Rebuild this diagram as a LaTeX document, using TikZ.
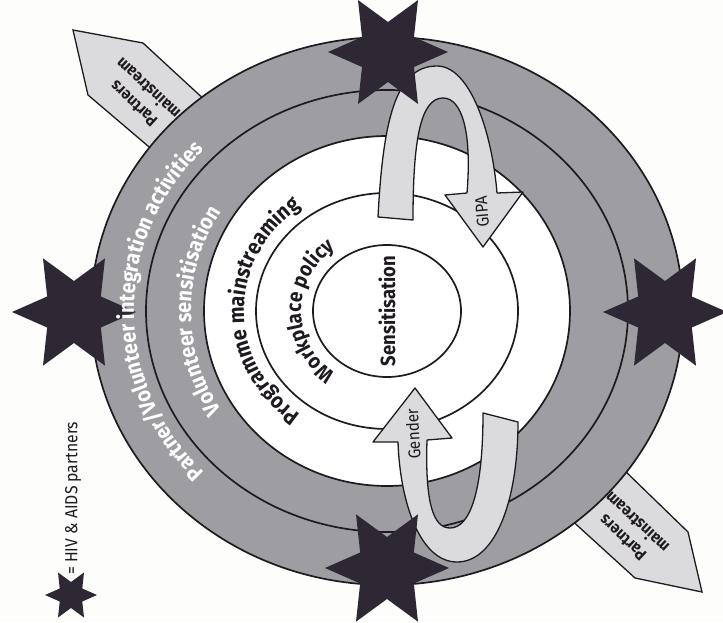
\documentclass[tikz,border=0pt]{standalone}
\usepackage{fontspec}
\setmainfont{Fira Sans}[FakeStretch=0.9]
\usepackage{tikz}
\usetikzlibrary{positioning,decorations.text}
\definecolor{BandGrey}{RGB}{158,158,162}
\definecolor{ArrowGrey}{RGB}{219,219,221}
\definecolor{StarInk}{RGB}{46,39,52}
\definecolor{LineInk}{RGB}{30,26,32}
\definecolor{Paper}{RGB}{253,253,251}
\newcommand{\ringfont}{\bfseries\fontsize{22}{26}\selectfont}
\newcommand{\coreringfont}{\bfseries\fontsize{21}{25}\selectfont}

\begin{document}
\begin{tikzpicture}[x=1pt, y=1pt, font=\bfseries]
      \tikzset{
        ring/.style={draw=LineInk, line width=1.7pt},
        band/.style={ring, fill=BandGrey},
        partnerstar/.style={fill=StarInk, draw=none},
        loop arrow/.style={draw=LineInk, line width=1.3pt, fill=ArrowGrey, line join=round},
        tag/.style={draw=LineInk, line width=1.3pt, fill=ArrowGrey},
        tag text/.style={align=center, text=LineInk, font=\bfseries\fontsize{16.5}{21}\selectfont, rotate=137},
        loop text/.style={text=LineInk, font=\mdseries\fontsize{17}{20}\selectfont},
        ring text/.style={decorate, decoration={text along path, text align=center, text color=#1}}
      }
      \useasboundingbox (0,0) rectangle (723,622);
      \fill[Paper] (0,0) rectangle (723,622);
      \coordinate (c) at (387,311);

      \draw[tag] (73,592) -- (143,579) -- (208,519) -- (155,470) -- (88,527) -- cycle;
      \draw[tag] (568,105) -- (623,153) -- (688,90) -- (702,30) -- (635,44) -- cycle;

      \draw[band] (c) ellipse[x radius=296, y radius=274];
      \draw[ring] (c) ellipse[x radius=241, y radius=221];
      \draw[ring, fill=white] (c) ellipse[x radius=183, y radius=175];
      \draw[ring] (c) ellipse[x radius=131, y radius=118];
      \draw[ring] (c) ellipse[x radius=74, y radius=66];

      \draw[loop arrow] (378,405) .. controls (383,500) and (395,556) .. (437,556) .. controls (470,556) and (492,490) .. (497,429) -- (523,430) -- (483,375) -- (445,427) -- (467,429) .. controls (472,490) and (462,524) .. (443,524) .. controls (420,524) and (413,480) .. (413,402) -- cycle;
      \draw[loop arrow] (415,234) -- (452,184) -- (427,182) .. controls (425,120) and (433,94) .. (450,94) .. controls (470,94) and (483,130) .. (483,209) -- (518,200) .. controls (518,120) and (495,60) .. (457,60) .. controls (420,60) and (400,120) .. (398,180) -- (373,180) -- cycle;

      \foreach \sx/\sy/\sr/\sname in {388/570/60/startop, 74/310/62/starleft, 665/310/62/starright, 387/54/62/starbottom, 71/27/26/keystar}{
        \coordinate (\sname) at (\sx,\sy);
        \fill[partnerstar] (\sname) +(0:\sr) \foreach \k in {1,...,11}{ -- +(\k*30:{\sr*(1-0.5*mod(\k,2))}) } -- cycle;
      }

      \path[ring text=white, decoration={text={|\ringfont|Partner/Volunteer integration activities}}] (c) ++(270:253 and 233) arc[start angle=270, end angle=90, x radius=253, y radius=233];
      \path[ring text=white, decoration={text={|\ringfont|Volunteer sensitisation}}] (c) ++(270:196 and 186) arc[start angle=270, end angle=90, x radius=196, y radius=186];
      \path[ring text=LineInk, decoration={text={|\ringfont|Programme mainstreaming}}] (c) ++(270:143 and 130) arc[start angle=270, end angle=90, x radius=143, y radius=130];
      \path[ring text=LineInk, decoration={text={|\coreringfont|Workplace policy}}] (c) ++(270:86 and 78) arc[start angle=270, end angle=90, x radius=86, y radius=78];
      \node[rotate=90, text=LineInk, font=\bfseries\fontsize{20.5}{24}\selectfont] (core) at (c) {Sensitisation};

      \node[loop text, rotate=95] (gipa) at (482,410) {GIPA};
      \node[loop text, rotate=93] (gender) at (413,188) {Gender};
      \node[tag text] (tagnw) at (141,526) {Partners\\mainstream};
      \node[tag text] (tagse) at (630,92) {Partners\\mainstream};

      \node[rotate=90, anchor=west, inner sep=0pt, text=LineInk, font=\mdseries\fontsize{17.5}{20}\selectfont] (keytext) at (73,47) {= HIV \& AIDS partners};
    \end{tikzpicture}
\end{document}
